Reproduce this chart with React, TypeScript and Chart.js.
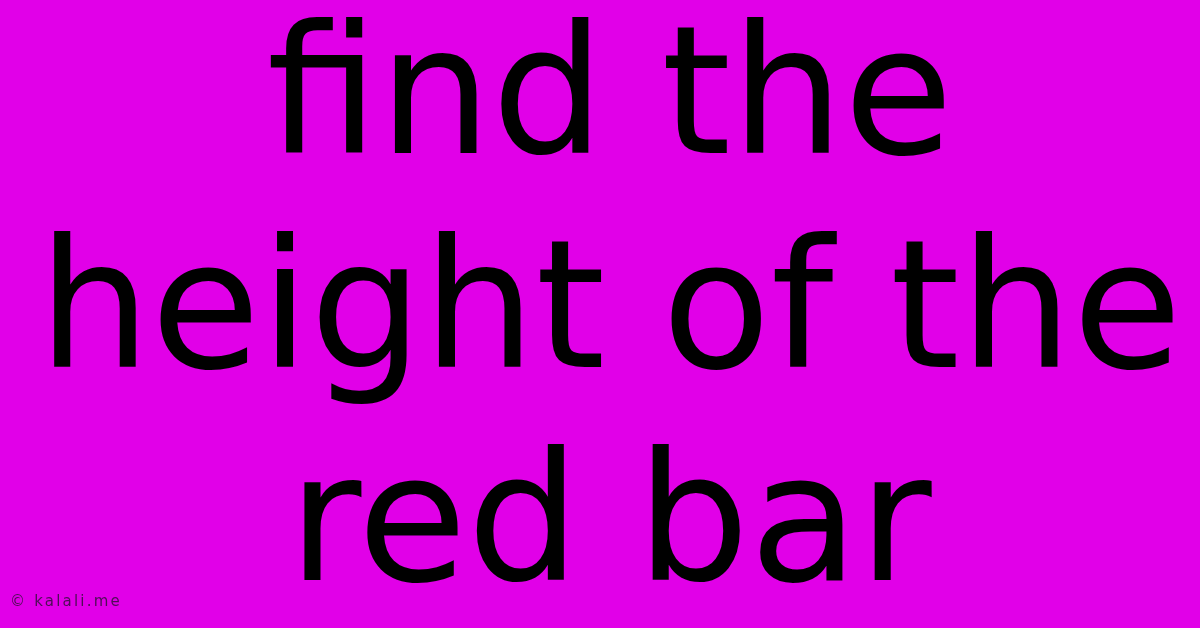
import { useEffect, useRef } from "react"
import { Chart, registerables } from "chart.js"

Chart.register(...registerables)

// Text content of the card
const headlineLines = ["find the", "height of the", "red bar"]
const creditText = "© kalali.me"

// No plotted marks in this picture, the chart only carries the text
const categories: string[] = []
const seriesValues: number[] = []

const BG = "#e100e8"

export default function App() {
  const chartRef = useRef<HTMLCanvasElement>(null)
  const chartInstance = useRef<Chart | null>(null)

  useEffect(() => {
    if (!chartRef.current) return

    if (chartInstance.current) {
      chartInstance.current.destroy()
    }

    const ctx = chartRef.current.getContext("2d")
    if (!ctx) return

    chartInstance.current = new Chart(ctx, {
      type: "bar",
      data: {
        labels: categories,
        datasets: [
          {
            label: "",
            data: seriesValues,
            backgroundColor: "red",
          },
        ],
      },
      options: {
        animation: false,
        responsive: true,
        maintainAspectRatio: false,
        layout: {
          padding: { left: 20, right: 0, top: 0, bottom: 0 },
        },
        scales: {
          x: { display: false },
          y: { display: false },
        },
        plugins: {
          legend: { display: false },
          tooltip: { enabled: false },
          title: {
            display: true,
            text: headlineLines,
            color: "#000000",
            align: "center",
            font: {
              family: "DejaVu Sans",
              size: 178,
              weight: "normal",
              lineHeight: 1.2,
            },
            padding: { top: 0, bottom: 0 },
          },
        },
      },
    })

    return () => {
      if (chartInstance.current) {
        chartInstance.current.destroy()
        chartInstance.current = null
      }
    }
  }, [])

  return (
    <div
      style={{
        position: "fixed",
        left: 0,
        top: 0,
        width: "1200px",
        height: "628px",
        background: BG,
        overflow: "hidden",
      }}
    >
      <canvas ref={chartRef}></canvas>
      <span
        style={{
          position: "absolute",
          left: "10px",
          top: "594px",
          fontFamily: "DejaVu Sans",
          fontSize: "15px",
          lineHeight: "15px",
          letterSpacing: "2.2px",
          color: "#4e0e56",
          whiteSpace: "pre",
        }}
      >
        {creditText}
      </span>
    </div>
  )
}
